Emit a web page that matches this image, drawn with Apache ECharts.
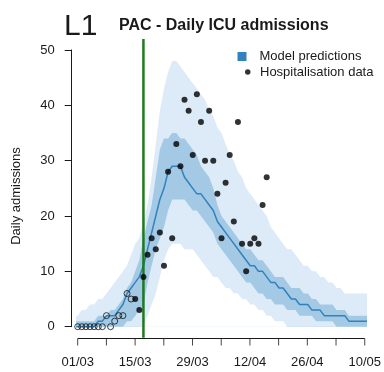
<!DOCTYPE html>
<html>
<head>
<meta charset="utf-8">
<script src="https://cdn.jsdelivr.net/npm/echarts@6/dist/echarts.min.js"></script>
<style>
  html, body { margin: 0; padding: 0; background: #ffffff; }
  #chart { width: 384px; height: 372px; }
</style>
</head>
<body>
<div id="chart"></div>
<script>
// Date tick labels, one every 14 days starting 01/03 (day 0)
const dateLabels = ['01/03', '15/03', '29/03', '12/04', '26/04', '10/05'];
// Weekly tick marks on the date axis (days since 01/03)
const weekTicks = [0, 7, 14, 21, 28, 35, 42, 49, 56, 63, 70];

// Model projections, one value per day starting 29/02 (day -1)
const modelStart = -1;
const ci95Low = [
  0, 0, 0, 0, 0, 0, 0, 0, 0, 0,
  0, 0, 0, 0, 0, 0, 0, 0, 2, 4,
  6, 9, 12, 14, 15, 15, 15, 14, 14, 14,
  13, 12, 11, 10, 9, 9, 8, 7, 7, 6,
  6, 5, 5, 4, 4, 3, 3, 2, 2, 1,
  1, 1, 0, 0, 0, 0, 0, 0, 0, 0,
  0, 0, 0, 0, 0, 0, 0, 0, 0, 0,
  0, 0, 0
];
const ci95High = [
  2, 2, 3, 3, 4, 4, 5, 5, 6, 7,
  8, 9, 10, 11, 13, 15, 16, 19, 22, 27,
  33, 39, 43, 46, 48, 48, 47, 46, 45, 44,
  43, 42, 41, 39, 38, 36, 35, 33, 31, 30,
  28, 27, 25, 24, 23, 22, 21, 20, 18, 17,
  16, 15, 14, 14, 13, 12, 11, 11, 10, 10,
  9, 9, 8, 8, 7, 7, 6, 6, 6, 6,
  6, 6, 6
];
const ci50Low = [
  0, 0, 0, 0, 0, 0, 0, 0, 0, 0,
  0, 0, 0, 1, 1, 2, 3, 4, 8, 11,
  14, 16, 18, 21, 23, 23, 23, 23, 22, 21,
  21, 20, 19, 18, 17, 15, 14, 13, 12, 11,
  10, 9, 8, 8, 7, 6, 6, 5, 5, 4,
  4, 4, 3, 3, 3, 2, 2, 2, 2, 1,
  1, 1, 1, 1, 0, 0, 0, 0, 0, 0,
  0, 0, 0
];
const ci50High = [
  1, 1, 1, 1, 1, 1, 2, 2, 2, 3,
  3, 4, 5, 7, 8, 10, 12, 16, 19, 22,
  27, 32, 34, 34, 35, 35, 34, 34, 33, 32,
  31, 29, 28, 27, 25, 22, 20, 19, 18, 17,
  16, 15, 14, 14, 13, 12, 12, 11, 10, 9,
  9, 9, 8, 7, 7, 7, 6, 6, 5, 5,
  4, 4, 4, 4, 3, 3, 3, 2, 2, 2,
  2, 2, 2
];
const median = [
  0, 0, 0, 0, 0, 0, 1, 1, 2, 2,
  2, 3, 4, 6, 7, 8, 9, 11, 14, 17,
  20, 23, 25, 28, 29, 29, 29, 27, 26, 25,
  24, 24, 23, 22, 21, 19, 18, 17, 16, 15,
  14, 13, 12, 11, 11, 10, 10, 9, 8, 8,
  7, 7, 6, 5, 5, 4, 4, 4, 3, 3,
  3, 2, 2, 2, 2, 2, 2, 1, 1, 1,
  1, 1, 1
];

// Observed daily ICU admissions
const earlyStart = 0;   // days not used for fitting (open circles)
const earlyObs = [0, 0, 0, 0, 0, 0, 0, 2, 0, 1, 2, 2, 6, 5];
const fitStart = 14;    // days used for fitting (filled dots)
const fitObs = [5, 3, 9, 13, 16, 14, 17, 11, 28, 16, 33, 29, 41, 39, 31, 42, 37,
                30, 39, 30, 24, 16, 26, 31, 19, 37, 15, 10, 15, 16, 15, 22, 27];

// Start of lockdown (17/03)
const lockdownDay = 16;

const FONT = 'Liberation Sans, Arial, Helvetica, sans-serif';
const TXT = '#1a1a1a';
const LIGHT = '#dcebf7';
const DARK = '#a3c9e5';
const LINE = '#3182bd';
const GREEN = '#1e7a1e';

const toPairs = (start, arr) => arr.map((v, i) => [start + i, v]);

// Interval bands are painted as nested areas from the x axis up:
// 95% upper (light), 50% upper (dark), 50% lower (light), 95% lower (white).
const bandLayer = (name, arr, color) => ({
  name, type: 'line', clip: false, silent: true, symbol: 'none',
  lineStyle: { opacity: 0 },
  areaStyle: { color, opacity: 1, origin: 'start' },
  data: toPairs(modelStart, arr), z: 1
});

const axisStroke = { color: TXT, width: 1 };

const chart = echarts.init(document.getElementById('chart'), null, { renderer: 'canvas' });
chart.setOption({
  animation: false,
  backgroundColor: '#ffffff',
  textStyle: { fontFamily: FONT },
  title: [
    { text: 'L1', left: 64, top: 12, padding: 0,
      textStyle: { fontFamily: FONT, fontSize: 30, fontWeight: 'normal', color: TXT } },
    { text: 'PAC - Daily ICU admissions', left: 119, top: 18, padding: 0,
      textStyle: { fontFamily: FONT, fontSize: 16, fontWeight: 'bold', color: TXT } }
  ],
  legend: [
    { data: ['Model predictions'], left: 237.5, top: 50, padding: 0,
      icon: 'rect', itemWidth: 9, itemHeight: 9,
      textStyle: { fontFamily: FONT, fontSize: 13, color: TXT, padding: [0, 0, 0, 8] } },
    { data: ['Hospitalisation data'], left: 245, top: 65.5, padding: 0,
      icon: 'circle', itemWidth: 5.5, itemHeight: 5.5,
      textStyle: { fontFamily: FONT, fontSize: 13, color: TXT, padding: [0, 0, 0, 4.5] } }
  ],
  graphic: [
    { type: 'text', x: 16, y: 196, rotation: Math.PI / 2,
      style: { text: 'Daily admissions', fill: TXT, font: '13px ' + FONT,
               align: 'center', verticalAlign: 'middle' } }
  ],
  // grid 0 holds the data; grid 1 carries the date axis, set just below the plot
  grid: [
    { left: 77.7, right: 18.7, top: 49.95, bottom: 45.3 },
    { left: 77.7, right: 18.7, top: 49.95, bottom: 33.5 }
  ],
  xAxis: [
    { gridIndex: 0, type: 'value', min: 0, max: 70, show: false },
    {
      gridIndex: 1, type: 'value', min: 0, max: 70, interval: 7,
      axisLine: { show: false },
      axisTick: { show: false },
      axisLabel: {
        show: true, margin: 17.5, fontSize: 13, color: TXT, fontFamily: FONT,
        showMinLabel: true, showMaxLabel: true,
        formatter: v => (v % 14 === 0 ? dateLabels[v / 14] : '')
      },
      splitLine: { show: false }
    }
  ],
  yAxis: [
    {
      gridIndex: 0, type: 'value', min: 0, max: 50, interval: 10, offset: 6,
      axisLine: { show: true, onZero: false, lineStyle: axisStroke },
      axisTick: { show: true, length: 7, lineStyle: axisStroke },
      axisLabel: { margin: 17, fontSize: 13, color: TXT, fontFamily: FONT },
      splitLine: { show: false }
    },
    { gridIndex: 1, type: 'value', min: 0, max: 1, show: false }
  ],
  series: [
    bandLayer('ci95 upper', ci95High, LIGHT),
    bandLayer('ci50 upper', ci50High, DARK),
    bandLayer('ci50 lower', ci50Low, LIGHT),
    bandLayer('ci95 lower', ci95Low, '#ffffff'),
    { name: 'Model predictions', type: 'line', clip: false, silent: true,
      symbol: 'none', color: LINE, itemStyle: { color: LINE },
      lineStyle: { color: LINE, width: 1.5 },
      data: toPairs(modelStart, median), z: 3 },
    { name: 'lockdown', type: 'line', clip: false, silent: true, symbol: 'none',
      lineStyle: { color: GREEN, width: 2.5 },
      data: [[lockdownDay, -2], [lockdownDay, 52]], z: 4 },
    { name: 'early data', type: 'scatter', symbol: 'circle', symbolSize: 6,
      itemStyle: { color: 'rgba(0,0,0,0)', borderColor: '#111', borderWidth: 1 },
      data: toPairs(earlyStart, earlyObs), z: 5 },
    { name: 'Hospitalisation data', type: 'scatter', symbol: 'circle', symbolSize: 6,
      itemStyle: { color: '#000' },
      data: toPairs(fitStart, fitObs), z: 6 },
    // date axis baseline and weekly tick marks, placed on the date axis scale
    { name: 'date axis line', type: 'line', xAxisIndex: 1, yAxisIndex: 1,
      clip: false, silent: true, symbol: 'none',
      lineStyle: { color: TXT, width: 1 },
      data: [[weekTicks[0], 0], [weekTicks[weekTicks.length - 1], 0]], z: 6 },
    { name: 'date axis ticks', type: 'scatter', xAxisIndex: 1, yAxisIndex: 1,
      clip: false, silent: true, symbol: 'rect', symbolSize: [1, 7], symbolOffset: [0, 3.5],
      itemStyle: { color: TXT },
      data: weekTicks.map(t => [t, 0]), z: 6 }
  ]
});
</script>
</body>
</html>
